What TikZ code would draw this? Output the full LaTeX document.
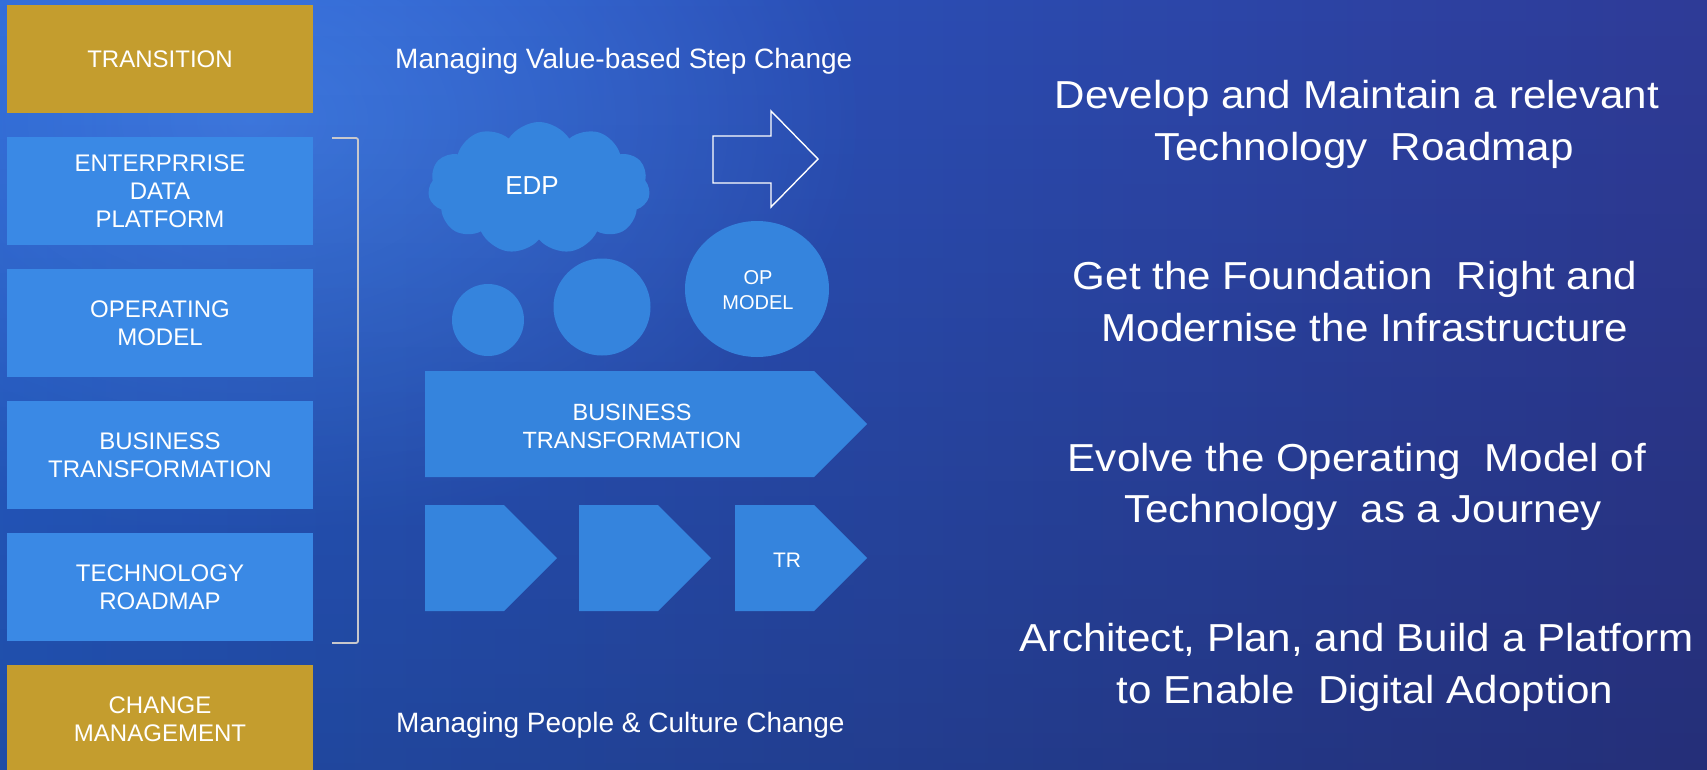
\documentclass[tikz,border=0pt]{standalone}
\usepackage{fontspec}
\setmainfont{Liberation Sans}
\newfontfamily\widefont[FakeStretch=1.08]{Liberation Sans}
\usetikzlibrary{shapes.symbols,shapes.geometric,fadings}
\definecolor{bgL}{HTML}{2862D4}
\definecolor{bgM}{HTML}{1A3FA8}
\definecolor{bgR}{HTML}{2F3B98}
\definecolor{glow}{HTML}{4C8CF2}
\definecolor{boxblue}{HTML}{3A89E5}
\definecolor{chevblue}{HTML}{3584DD}
\definecolor{gold}{HTML}{C49D2E}
\definecolor{brk}{HTML}{C8C8CC}
\tikzfading[name=glowfade, inner color=transparent!35, outer color=transparent!100]
\tikzfading[name=downfade, top color=transparent!100, bottom color=transparent!78]
\tikzset{
  leftbox/.style={fill=boxblue, minimum width=306pt, minimum height=108pt, inner sep=0pt,
    text=white, align=center, font=\fontsize{24}{28}\selectfont},
  goldbox/.style={leftbox, fill=gold},
  shapetxt/.style={text=white, align=center, font=\fontsize{23.5}{28}\selectfont},
  headtxt/.style={text=white, anchor=base west, inner sep=0pt, font=\fontsize{28}{32}\selectfont},
  righttxt/.style={text=white, anchor=base, inner sep=0pt, font=\widefont\fontsize{39}{46}\selectfont},
  chev/.style={fill=chevblue},
  blob/.style={fill=chevblue}
}
\begin{document}
\begin{tikzpicture}[x=1pt,y=-1pt]
\useasboundingbox (0,0) rectangle (1707,769);
% background
\shade[left color=bgL, middle color=bgM, right color=bgR] (-20,-20) rectangle (1727,789);
\fill[glow, path fading=glowfade] (250,120) ellipse [x radius=620, y radius=420];
\fill[black, path fading=downfade] (-30,-30) rectangle (1737,799);

% left column
\node[goldbox] (trans) at (160,59) {TRANSITION};
\node[leftbox] (edpbox) at (160,191) {ENTERPRRISE\\DATA\\PLATFORM};
\node[leftbox] (opbox) at (160,323) {OPERATING\\MODEL};
\node[leftbox] (btbox) at (160,455) {BUSINESS\\TRANSFORMATION};
\node[leftbox] (trbox) at (160,587) {TECHNOLOGY\\ROADMAP};
\node[goldbox] (cmbox) at (160,719) {CHANGE\\MANAGEMENT};

% bracket
\coordinate (b1) at (332,138);
\coordinate (b2) at (358,138);
\coordinate (b3) at (358,643);
\coordinate (b4) at (332,643);
\draw[brk, line width=1.8pt, rounded corners=2pt] (b1) -- (b2) -- (b3) -- (b4);

% headings
\node[headtxt] (vh) at (395,68) {Managing Value-based Step Change};
\node[headtxt] (ph) at (396,732) {Managing People \& Culture Change};

% cloud
\node[cloud, cloud puffs=11, cloud puff arc=115, aspect=1.75, fill=chevblue,
  minimum width=222pt, minimum height=132pt, inner sep=0pt] (edp) at (539,188) {};
\node[shapetxt, font=\fontsize{26}{30}\selectfont] (edpt) at (532,186) {EDP};

% outline arrow
\draw[white, line width=1.4pt] (713,136) -- (771,136) -- (771,111) -- (818,159)
  -- (771,207) -- (771,183) -- (713,183) -- cycle;

% circles
\node[blob, circle, minimum size=72pt, inner sep=0pt] (c1) at (488,320) {};
\node[blob, circle, minimum size=97pt, inner sep=0pt] (c2) at (602,307) {};
\node[blob, ellipse, minimum width=144pt, minimum height=136pt, inner sep=0pt] (c3) at (757,289) {};
\node[shapetxt, font=\fontsize{20}{25}\selectfont] (opt) at (758,290) {OP\\MODEL};

% chevrons
\fill[chev] (425,371) -- (814,371) -- (867,424) -- (814,477) -- (425,477) -- cycle;
\node[shapetxt] (btt) at (632,426) {BUSINESS\\TRANSFORMATION};
\fill[chev] (425,505) -- (504,505) -- (557,558) -- (504,611) -- (425,611) -- cycle;
\fill[chev] (579,505) -- (658,505) -- (711,558) -- (658,611) -- (579,611) -- cycle;
\fill[chev] (735,505) -- (814,505) -- (867,558) -- (814,611) -- (735,611) -- cycle;
\node[shapetxt, font=\fontsize{21}{25}\selectfont] (trt) at (787,560) {TR};

% right statements
\node[righttxt] (s1a) at (1357,108) {Develop and Maintain a relevant};
\node[righttxt] (s1b) at (1364,160) {Technology\ \ Roadmap};
\node[righttxt] (s2a) at (1355,289) {Get the Foundation\ \ Right and};
\node[righttxt] (s2b) at (1365,341) {Modernise the Infrastructure};
\node[righttxt] (s3a) at (1357,471) {Evolve the Operating\ \ Model of};
\node[righttxt] (s3b) at (1363,522) {Technology\ \ as a Journey};
\node[righttxt] (s4a) at (1357,651) {Architect, Plan, and Build a Platform};
\node[righttxt] (s4b) at (1365,703) {to Enable\ \ Digital Adoption};
\end{tikzpicture}
\end{document}
